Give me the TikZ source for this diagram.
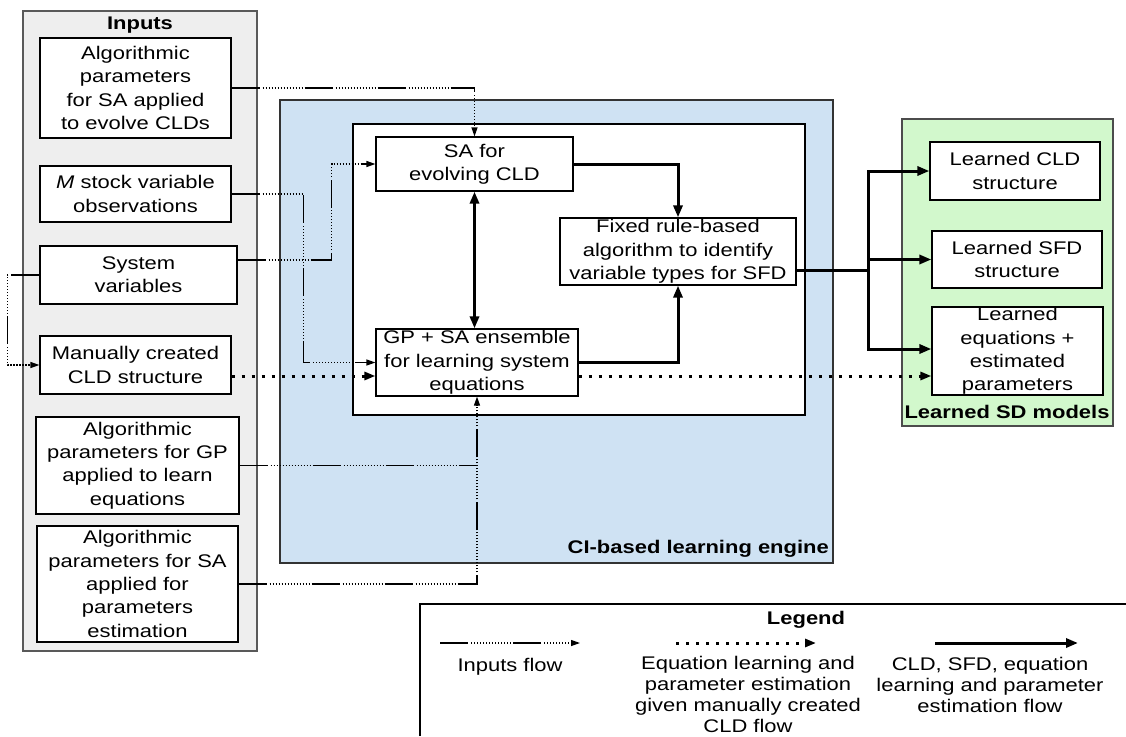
\documentclass[tikz,border=0pt]{standalone}
\usepackage{fontspec}
\setmainfont[FakeStretch=1.2]{Liberation Sans}
\usetikzlibrary{arrows.meta,calc}
\definecolor{inbg}{HTML}{EEEEEE}
\definecolor{blueb}{HTML}{CFE2F3}
\definecolor{greenb}{HTML}{D2F8CC}
\tikzset{
  txt/.style={align=center, inner sep=0pt, font=\fontsize{18.3}{23.3}\selectfont},
  lgt/.style={align=center, inner sep=0pt, font=\fontsize{18.3}{21}\selectfont},
  ttl/.style={inner sep=0pt, font=\fontsize{18.3}{23.3}\selectfont\bfseries},
  box/.style={txt, draw=black, line width=1.2pt, fill=white},
  bx/.style 2 args={minimum width=#1pt, minimum height=#2pt},
  inflow/.style={line width=1.2pt,
    dash pattern=on 28pt off 3pt on 1.2pt off 1.8pt on 1.2pt off 1.8pt on 1.2pt off 1.8pt on 1.2pt off 1.8pt on 1.2pt off 1.8pt on 1.2pt off 1.8pt on 1.2pt off 1.8pt on 1.2pt off 1.8pt on 1.2pt off 1.8pt on 1.2pt off 1.8pt on 1.2pt off 1.8pt on 1.2pt off 1.8pt on 1.2pt off 1.8pt on 1.2pt off 1.8pt},
  inarrow/.style={inflow, -{Triangle[length=9pt,width=6pt]}},
  dotflow/.style={line width=3pt, dash pattern=on 3pt off 7pt, -{Triangle[length=11pt,width=8pt]}},
  thick arrow/.style={line width=3pt, -{Triangle[length=12pt,width=9pt]}},
  thick line/.style={line width=3pt},
}
\begin{document}
\begin{tikzpicture}[x=1pt,y=-1pt]
\useasboundingbox (0,0) rectangle (1126,736);
\fill[white] (0,0) rectangle (1126,736);

% panels
\draw[draw=black!65, fill=inbg, line width=1.2pt] (23,11) rectangle (257,651);
\node[ttl] (tin) at (140,25) {Inputs};
\draw[draw=black!80, fill=blueb, line width=1.2pt] (280,100) rectangle (833,563);
\draw[draw=black, fill=white, line width=1.2pt] (353,124) rectangle (805,415);
\node[ttl, anchor=east] (tci) at (829,549) {CI-based learning engine};
\draw[draw=black!70, fill=greenb, line width=1.2pt] (902,119) rectangle (1113,426);
\node[ttl] (tsd) at (1007,412) {Learned SD models};

% input boxes
\node[box, bx={191}{100}] (in1) at (135.5,88) {Algorithmic\\parameters\\for SA applied\\to evolve CLDs};
\node[box, bx={191}{56}] (in2) at (135.5,194) {\textit{M} stock variable\\observations};
\node[box, bx={197}{58}] (in3) at (138.5,275) {System\\variables};
\node[box, bx={191}{58}] (in4) at (135.5,365) {Manually created\\CLD structure};
\node[box, bx={203}{97}] (in5) at (137.5,465.5) {Algorithmic\\parameters for GP\\applied to learn\\equations};
\node[box, bx={201}{116}] (in6) at (137.5,584) {Algorithmic\\parameters for SA\\applied for\\parameters\\estimation};

% engine boxes
\node[box, bx={197}{54}] (sa) at (474.5,164) {SA for\\evolving CLD};
\node[box, bx={202}{67}] (gp) at (477,362.5) {GP + SA ensemble\\for learning system\\equations};
\node[box, bx={236}{67}] (fix) at (678,251.5) {Fixed rule-based\\algorithm to identify\\variable types for SFD};

% output boxes
\node[box, bx={170}{58}] (cld) at (1015,171) {Learned CLD\\structure};
\node[box, bx={170}{57}] (sfd) at (1017,259.5) {Learned SFD\\structure};
\node[box, bx={171}{88}] (eq) at (1017.5,351) {Learned\\equations +\\estimated\\parameters};

% inputs flows
\draw[inarrow] (in1.east) -| (sa.north);
\draw[inarrow] (in2.east) -- ++(72,0) |- (gp.west);
\draw[inarrow] ([yshift=15pt]in3.east) -- ++(94,0) |- (sa.west);
\draw[inarrow] (in3.west) -- ++(-32,0) |- (in4.west);
\draw[inflow] (in5.east) -- (in5.east -| gp.south);
\draw[inarrow] (in6.east) -| (gp.south);

% main flows
\draw[thick arrow] (sa.east) -| (fix.north);
\draw[thick arrow] (gp.east) -| (fix.south);
\draw[line width=3pt, {Triangle[length=12pt,width=9pt]}-{Triangle[length=12pt,width=9pt]}] (sa.south) -- (sa.south |- gp.north);
\coordinate (br) at (868,270);
\draw[thick line] ([yshift=-18.5pt]fix.east) -- (br);
\draw[thick arrow] (br) |- (cld.west);
\draw[thick arrow] (br) |- (sfd.west);
\draw[thick arrow] (br) |- ([yshift=2pt]eq.west);

% dotted flows
\draw[dotflow] ([yshift=-11pt]in4.east) -- ([yshift=-13.5pt]gp.west);
\draw[dotflow] ([yshift=-13.5pt]gp.east) -- ([yshift=-25pt]eq.west);

% legend
\draw[line width=1.2pt] (420,736) -- (420,604) -- (1126,604);
\node[ttl] (tlg) at (806,620) {Legend};
\coordinate (l1a) at (440,643); \coordinate (l1b) at (580,643);
\coordinate (l2a) at (676,643); \coordinate (l2b) at (816,643);
\coordinate (l3a) at (935,643); \coordinate (l3b) at (1078,643);
\draw[inarrow] (l1a) -- (l1b);
\draw[dotflow] (l2a) -- (l2b);
\draw[thick arrow] (l3a) -- (l3b);
\node[lgt] (lt1) at (510,667) {Inputs flow};
\node[lgt] (lt2) at (748,694) {Equation learning and\\parameter estimation\\given manually created\\CLD flow};
\node[lgt] (lt3) at (990,685) {CLD, SFD, equation\\learning and parameter\\estimation flow};
\end{tikzpicture}
\end{document}
